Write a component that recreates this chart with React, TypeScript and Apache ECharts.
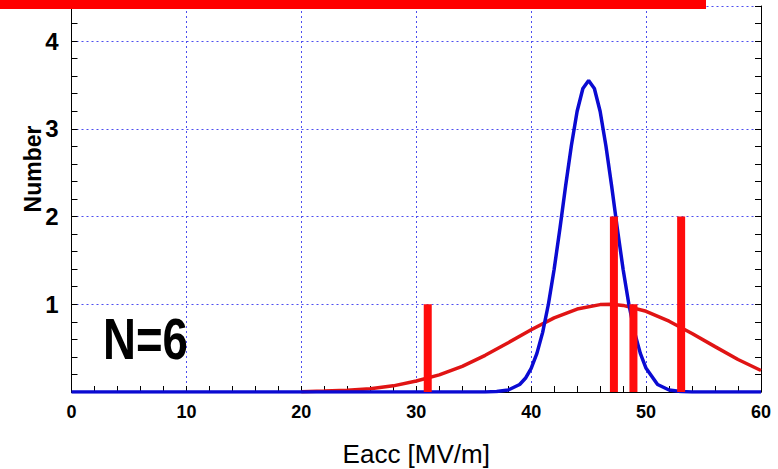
import React, { useEffect, useRef } from "react";
import * as echarts from "echarts";

// Fitted distribution of the measured cavities (narrow fit)
const blueX = [0, 36, 37, 38, 39, 39.5, 40, 40.5, 41, 41.5, 42, 42.5, 43, 43.5, 44, 44.5, 45, 45.5, 46, 46.5, 47, 47.5, 48, 48.5, 49, 49.5, 50, 51, 52, 53, 54, 60];
const blueY = [0, 0.001, 0.005, 0.023, 0.086, 0.156, 0.27, 0.44, 0.68, 1.0, 1.4, 1.86, 2.35, 2.81, 3.2, 3.46, 3.55, 3.46, 3.2, 2.81, 2.35, 1.86, 1.4, 1.0, 0.68, 0.44, 0.27, 0.086, 0.023, 0.005, 0.001, 0];

// Broad fitted distribution
const redX = [20, 22, 24, 26, 28, 30, 32, 34, 36, 38, 40, 42, 44, 46, 47, 48, 50, 52, 54, 56, 58, 60];
const redY = [0.004, 0.01, 0.02, 0.038, 0.07, 0.125, 0.195, 0.293, 0.418, 0.562, 0.71, 0.845, 0.946, 0.996, 0.999, 0.987, 0.92, 0.807, 0.666, 0.517, 0.37, 0.245];

// Measured gradients (histogram counts)
const barX = [31, 47.2, 48.9, 53.05];
const barY = [1, 2, 1, 2];

const xTicks = { min: 0, max: 60, interval: 10 };
const yTicks = { min: 0, max: 4.4, interval: 1 };

const FONT = "'Liberation Sans', Arial, Helvetica, sans-serif";

export default function App() {
  const ref = useRef<HTMLDivElement>(null);

  useEffect(() => {
    if (!ref.current) return;
    const chart = echarts.init(ref.current, undefined, { renderer: "svg" });

    const gridLine = { show: true, lineStyle: { color: "#4d4df0", width: 1, type: [2, 3] as any } };
    const tickStyle = { color: "#000", width: 1 };

    chart.setOption({
      animation: false,
      backgroundColor: "#ffffff",
      grid: { left: 71.5, right: 17, top: 6, bottom: 77, containLabel: false, outerBoundsMode: "none" },
      xAxis: [
        {
          type: "value",
          min: xTicks.min,
          max: xTicks.max,
          interval: xTicks.interval,
          name: "Eacc [MV/m]",
          nameLocation: "middle",
          nameGap: 49,
          nameTextStyle: { fontFamily: FONT, fontSize: 26, color: "#000" },
          axisLine: { show: true, lineStyle: { color: "#000", width: 1 } },
          axisTick: { show: true, inside: true, length: 6, lineStyle: tickStyle },
          minorTick: { show: true, splitNumber: 5, length: 6, lineStyle: tickStyle },
          axisLabel: { fontFamily: FONT, fontSize: 18, fontWeight: "bold", color: "#000", margin: 11 },
          splitLine: gridLine,
        },
      ],
      yAxis: [
        {
          type: "value",
          min: yTicks.min,
          max: yTicks.max,
          interval: yTicks.interval,
          axisLine: { show: true, lineStyle: { color: "#000", width: 1 } },
          axisTick: { show: true, inside: true, length: 6, lineStyle: tickStyle },
          minorTick: { show: true, splitNumber: 5, length: 6, lineStyle: tickStyle },
          axisLabel: {
            fontFamily: FONT,
            fontSize: 24,
            fontWeight: "bold",
            color: "#000",
            margin: 13,
            formatter: (v: number) => (v === 0 || !Number.isInteger(v) ? "" : String(v)),
          },
          splitLine: gridLine,
        },
        {
          type: "value",
          position: "right",
          min: yTicks.min,
          max: yTicks.max,
          interval: yTicks.interval,
          axisLine: { show: true, lineStyle: { color: "#000", width: 1 } },
          axisTick: { show: true, inside: true, length: 6, lineStyle: tickStyle },
          minorTick: { show: true, splitNumber: 5, length: 6, lineStyle: tickStyle },
          axisLabel: { show: false },
          splitLine: { show: false },
        },
      ],
      series: [
        {
          type: "line",
          data: redX.map((x, i) => [x, redY[i]]),
          showSymbol: false,
          lineStyle: { color: "#e01414", width: 3.5 },
          z: 3,
        },
        {
          type: "line",
          data: blueX.map((x, i) => [x, blueY[i]]),
          showSymbol: false,
          lineStyle: { color: "#0a0ad2", width: 3.5 },
          z: 4,
        },
        {
          type: "bar",
          data: barX.map((x, i) => [x, barY[i]]),
          barWidth: 8,
          itemStyle: { color: "#ff0c0c" },
          z: 5,
        },
      ],
      graphic: [
        { type: "rect", shape: { x: 0, y: 0, width: 706, height: 9 }, style: { fill: "#ff0000" }, z: 10 },
        {
          type: "text",
          x: 33,
          y: 169,
          rotation: Math.PI / 2,
          style: {
            text: "Number",
            fontFamily: FONT,
            fontSize: 23,
            fontWeight: "bold",
            fill: "#000",
            textAlign: "center",
            textVerticalAlign: "middle",
          },
        },
        {
          type: "text",
          x: 103,
          y: 339,
          scaleX: 0.8,
          style: {
            text: "N=6",
            fontFamily: FONT,
            fontSize: 57,
            fontWeight: "bold",
            fill: "#000",
            textAlign: "left",
            textVerticalAlign: "middle",
          },
          z: 10,
        },
      ],
    });

    return () => chart.dispose();
  }, []);

  return <div ref={ref} style={{ width: 778, height: 469, position: "fixed", left: 0, top: 0 }} />;
}
